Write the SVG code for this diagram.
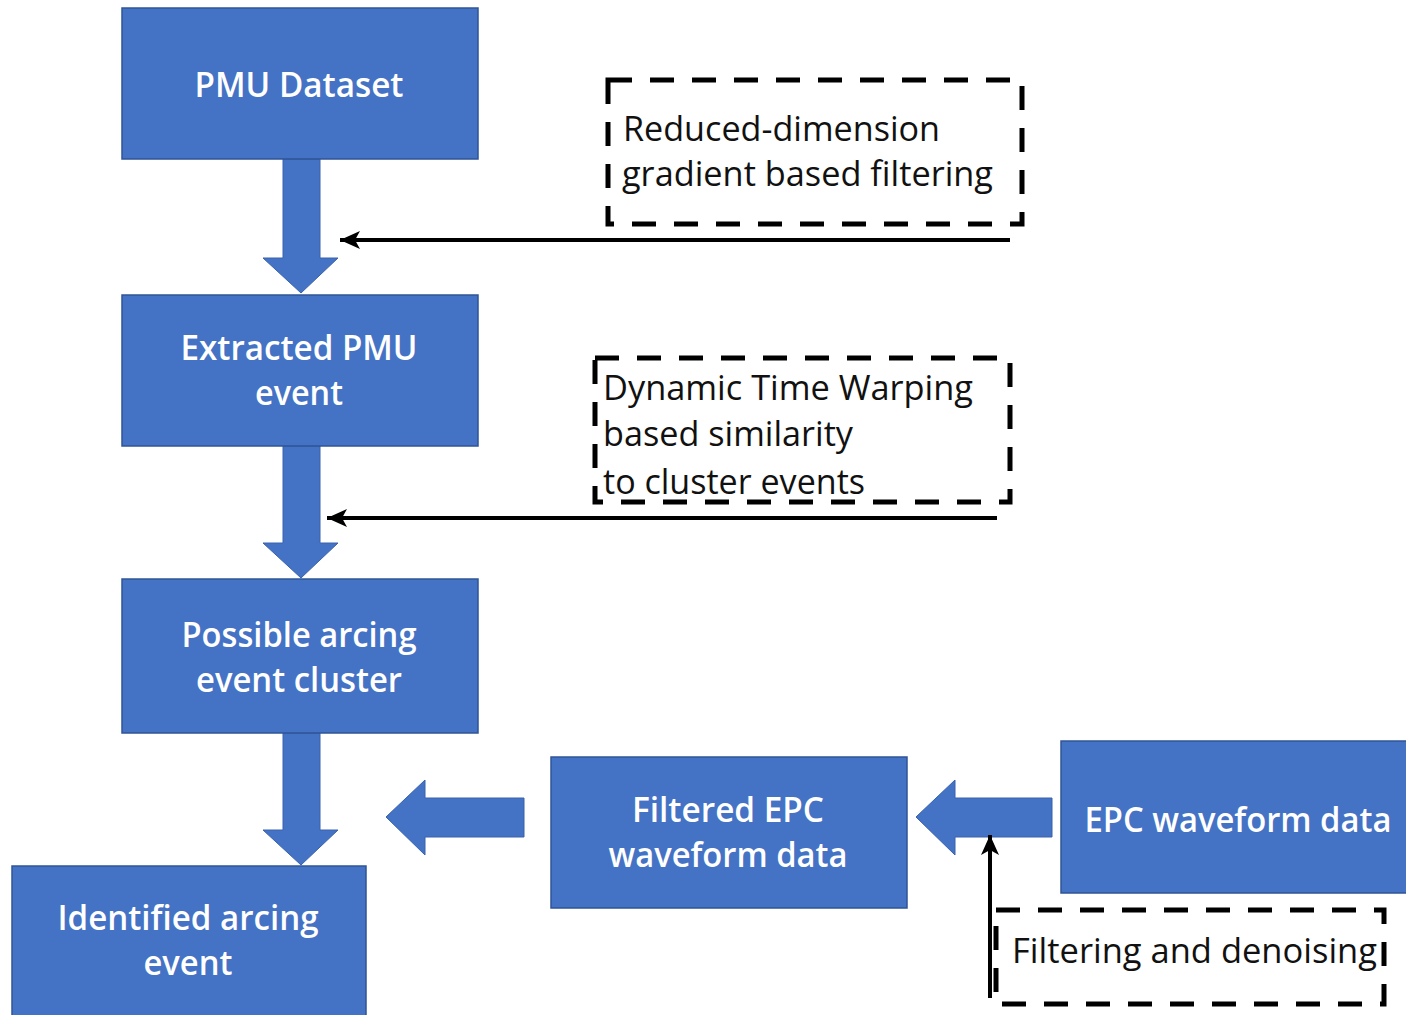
<svg xmlns="http://www.w3.org/2000/svg" width="1406" height="1015" viewBox="0 0 1406 1015">
<style>
.box{fill:#4472C4;stroke:#2F5597;stroke-width:1.5}
.blk{fill:#4472C4;stroke:#3A63AD;stroke-width:1}
.wt{font-family:"Open Sans","Noto Sans",sans-serif;font-size:34px;font-weight:600;fill:#ffffff;text-anchor:middle}
.bt{font-family:"Open Sans","Noto Sans",sans-serif;font-size:34px;fill:#111111}
.dash{fill:none;stroke:#000;stroke-width:5;stroke-dasharray:24 18}
.line{fill:none;stroke:#000;stroke-width:4}
</style>
<defs>
<marker id="ah" markerUnits="userSpaceOnUse" markerWidth="22" markerHeight="20" refX="20" refY="10" orient="auto">
<path d="M0,1 L20,10 L0,19 L5,10 Z" fill="#000"/>
</marker>
</defs>
<rect width="1406" height="1015" fill="#ffffff"/>
<g id="connectors">
<path class="blk" d="M283,159 H320 V258 H338 L301,293 L263,258 H283 Z"/>
<path class="blk" d="M283,446 H320 V543 H338 L301,578 L263,543 H283 Z"/>
<path class="blk" d="M283,733 H320 V830 H338 L301,865 L263,830 H283 Z"/>
<path class="blk" d="M524,798 V837 H425 V855 L386,817 L425,780 V798 Z"/>
<path class="blk" d="M1052,798 V837 H955 V855 L916,817 L955,780 V798 Z"/>
<line class="line" x1="1010" y1="240" x2="340" y2="240" marker-end="url(#ah)"/>
<line class="line" x1="997" y1="518" x2="327" y2="518" marker-end="url(#ah)"/>
<line class="line" x1="990" y1="998" x2="990" y2="835" marker-end="url(#ah)"/>
</g>
<g id="pmu-dataset">
<rect class="box" x="122" y="8" width="356" height="151"/>
<text class="wt" x="299" y="97" textLength="209" lengthAdjust="spacingAndGlyphs">PMU Dataset</text>
</g>
<g id="extracted-event">
<rect class="box" x="122" y="295" width="356" height="151"/>
<text class="wt" x="299" y="360" textLength="237" lengthAdjust="spacingAndGlyphs">Extracted PMU</text>
<text class="wt" x="299" y="405" textLength="88" lengthAdjust="spacingAndGlyphs">event</text>
</g>
<g id="possible-cluster">
<rect class="box" x="122" y="579" width="356" height="154"/>
<text class="wt" x="299" y="647" textLength="235" lengthAdjust="spacingAndGlyphs">Possible arcing</text>
<text class="wt" x="299" y="692" textLength="206" lengthAdjust="spacingAndGlyphs">event cluster</text>
</g>
<g id="identified-event">
<rect class="box" x="12" y="866" width="354" height="155"/>
<text class="wt" x="188" y="930" textLength="261" lengthAdjust="spacingAndGlyphs">Identified arcing</text>
<text class="wt" x="188" y="975" textLength="89" lengthAdjust="spacingAndGlyphs">event</text>
</g>
<g id="filtered-epc">
<rect class="box" x="551" y="757" width="356" height="151"/>
<text class="wt" x="728" y="822" textLength="192" lengthAdjust="spacingAndGlyphs">Filtered EPC</text>
<text class="wt" x="728" y="867" textLength="239" lengthAdjust="spacingAndGlyphs">waveform data</text>
</g>
<g id="epc-waveform">
<rect class="box" x="1061" y="741" width="360" height="152"/>
<text class="wt" x="1238" y="832" textLength="307" lengthAdjust="spacingAndGlyphs">EPC waveform data</text>
</g>
<g id="gradient-filtering">
<rect class="dash" x="608" y="80" width="414" height="144"/>
<text class="bt" x="623" y="141" textLength="317" lengthAdjust="spacingAndGlyphs">Reduced-dimension</text>
<text class="bt" x="622" y="186" textLength="371" lengthAdjust="spacingAndGlyphs">gradient based filtering</text>
</g>
<g id="dtw-similarity">
<rect class="dash" x="595" y="358" width="415" height="144"/>
<text class="bt" x="603" y="400" textLength="370" lengthAdjust="spacingAndGlyphs">Dynamic Time Warping</text>
<text class="bt" x="603" y="446" textLength="250" lengthAdjust="spacingAndGlyphs">based similarity</text>
<text class="bt" x="603" y="494" textLength="262" lengthAdjust="spacingAndGlyphs">to cluster events</text>
</g>
<g id="filtering-denoising">
<rect class="dash" x="996" y="910" width="388" height="94"/>
<text class="bt" x="1012" y="963" textLength="365" lengthAdjust="spacingAndGlyphs">Filtering and denoising</text>
</g>
</svg>
